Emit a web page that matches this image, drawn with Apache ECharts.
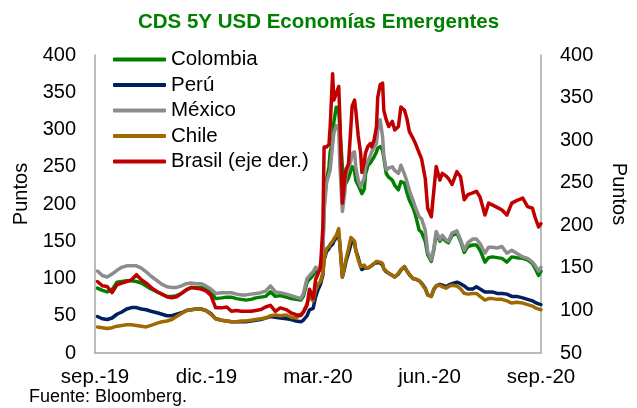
<!DOCTYPE html>
<html>
<head>
<meta charset="utf-8">
<script src="https://cdn.jsdelivr.net/npm/echarts@6.0.0/dist/echarts.min.js"></script>
<style>
  html, body { margin: 0; padding: 0; background: #fff; }
  #chart { width: 637px; height: 408px; }
</style>
</head>
<body>
<div id="chart"></div>
<script>
// fechas de las observaciones
const dates = [
  '2019-09-03','2019-09-07','2019-09-11','2019-09-15','2019-09-19','2019-09-23','2019-09-27','2019-10-01',
  '2019-10-05','2019-10-09','2019-10-13','2019-10-17','2019-10-22','2019-10-26','2019-10-30','2019-11-03',
  '2019-11-07','2019-11-11','2019-11-15','2019-11-19','2019-11-23','2019-11-27','2019-12-01','2019-12-05',
  '2019-12-09','2019-12-14','2019-12-18','2019-12-22','2019-12-26','2019-12-30','2020-01-03','2020-01-07',
  '2020-01-11','2020-01-15','2020-01-19','2020-01-23','2020-01-27','2020-01-31','2020-02-05','2020-02-09',
  '2020-02-13','2020-02-17','2020-02-19','2020-02-22','2020-02-24','2020-02-27','2020-02-29','2020-03-02',
  '2020-03-04','2020-03-06','2020-03-07','2020-03-09','2020-03-11','2020-03-12','2020-03-14','2020-03-15',
  '2020-03-17','2020-03-19','2020-03-20','2020-03-22','2020-03-24','2020-03-25','2020-03-27','2020-03-29',
  '2020-03-30','2020-04-01','2020-04-02','2020-04-04','2020-04-06','2020-04-07','2020-04-09','2020-04-10',
  '2020-04-12','2020-04-14','2020-04-15','2020-04-17','2020-04-19','2020-04-20','2020-04-22','2020-04-24',
  '2020-04-25','2020-04-27','2020-04-29','2020-05-02','2020-05-04','2020-05-07','2020-05-09','2020-05-12',
  '2020-05-14','2020-05-16','2020-05-19','2020-05-21','2020-05-24','2020-05-26','2020-05-29','2020-05-31',
  '2020-06-03','2020-06-05','2020-06-07','2020-06-10','2020-06-12','2020-06-15','2020-06-17','2020-06-20',
  '2020-06-24','2020-06-27','2020-06-30','2020-07-03','2020-07-07','2020-07-10','2020-07-13','2020-07-17',
  '2020-07-20','2020-07-23','2020-07-27','2020-07-31','2020-08-04','2020-08-08','2020-08-12','2020-08-17',
  '2020-08-21','2020-08-25','2020-08-27','2020-08-30','2020-09-01'
]

const colombia = [
  87,84,82,85,95,96,97,97,96,94,90,86,82,79,76,76,77,80,85,88,88,88,86,83,73,74,75,75,73,72,71,72,74,75,76,82,76,77,75,73,72,71,
  76,95,99,104,110,108,
  115,135,200,232,250,270,285,310,330,325,300,250,235,228,235,245,250,245,232,225,218,214,220,240,252,255,258,263,270,275,277,272,262,241,
  236,232,225,219,230,228,215,205,195,185,165,162,150,132,123,138,160,150,155,150,148,
  158,161,150,135,143,145,145,138,122,128,129,
  128,127,122,129,128,127,125,120,
  114,104,110
]

const peru = [
  49,46,45,47,52,55,59,61,61,59,58,56,54,52,50,50,52,54,57,58,59,59,57,53,46,44,43,42,42,42,42,43,44,45,47,49,48,47,46,45,43,42,
  44,50,58,60,75,85,
  92,105,125,136,140,143,146,150,155,160,145,102,115,123,134,146,153,148,138,128,116,112,114,113,114,116,117,120,121,122,121,118,113,109,
  107,104,102,106,111,116,110,105,100,99,97,94,87,78,76,85,90,92,91,89,91,
  93,95,93,90,86,86,89,86,82,82,82,
  80,80,79,76,76,74,72,70,
  68,66,65
]

const mexico = [
  110,104,102,106,111,115,117,117,117,114,109,103,97,92,89,88,88,90,93,94,93,93,90,86,80,81,81,81,79,78,78,79,80,81,83,90,82,81,79,77,75,73,
  80,100,104,109,115,112,
  118,135,190,228,240,246,280,295,305,300,250,190,215,240,248,258,268,270,250,232,223,225,235,250,258,265,270,276,281,300,313,290,265,246,
  248,250,245,241,252,240,230,218,205,195,183,180,165,136,125,140,163,152,158,152,150,
  161,164,152,138,148,153,153,147,134,142,142,
  141,143,134,138,134,129,127,122,
  118,110,115
]

const chile = [
  35,34,33,34,36,37,38,38,37,36,35,37,40,42,43,45,49,53,57,58,59,59,57,52,46,44,43,42,42,43,43,44,45,46,47,50,51,50,51,48,47,52,
  55,66,76,70,84,92,
  96,108,125,140,143,146,150,153,158,167,145,102,118,126,140,155,157,150,138,125,116,115,118,115,114,116,118,120,123,123,122,120,113,110,
  107,104,102,107,112,116,110,106,100,99,97,93,86,78,76,86,90,91,89,87,89,
  91,90,86,80,79,80,80,76,71,73,73,
  72,72,70,67,68,67,65,63,
  61,59,58
]

// Brasil va en el eje derecho
const brasil = [
  134,129,128,121,130,132,134,136,142,136,132,127,122,119,116,115,116,120,124,127,126,125,123,118,103,103,104,99,100,99,99,99,100,101,104,106,99,103,101,97,95,94,
  98,106,125,114,136,143,
  150,198,292,292,295,316,378,347,355,363,324,226,255,265,272,316,340,347,335,305,285,262,275,285,293,296,292,300,316,350,365,367,335,324,
  316,322,312,316,339,335,325,310,302,296,285,278,255,220,210,240,269,253,261,258,255,
  248,263,257,230,236,238,240,233,212,226,224,
  221,218,212,226,229,232,222,220,
  210,198,202
]

const xTickLabels = ['sep.-19', 'dic.-19', 'mar.-20', 'jun.-20', 'sep.-20']

const FONT = '"Liberation Sans", Arial, sans-serif'
const start = Date.UTC(2019, 8, 1)
const toDay = s => {
  const [y, m, d] = s.split('-').map(Number)
  return (Date.UTC(y, m - 1, d) - start) / 86400000
}
const pairs = arr => arr.map((v, i) => [toDay(dates[i]), v])

const chart = echarts.init(document.getElementById('chart'))

const makeSeries = (name, data, color, axis) => ({
  name,
  type: 'line',
  yAxisIndex: axis,
  data: pairs(data),
  showSymbol: false,
  symbol: 'none',
  lineStyle: { width: 3.5, color, cap: 'round', join: 'round' },
  itemStyle: { color }
})

const axisLine = { show: true, lineStyle: { color: '#a6a6a6', width: 1.5 } }

chart.setOption({
  animation: false,
  textStyle: { fontFamily: FONT },
  title: [
    {
      text: 'CDS 5Y USD Economías Emergentes',
      left: 'center',
      top: 7,
      textStyle: { fontFamily: FONT, fontSize: 20.5, fontWeight: 'bold', color: '#008000' }
    },
    {
      text: 'Fuente: Bloomberg.',
      left: 24,
      top: 383,
      textStyle: { fontFamily: FONT, fontSize: 18, fontWeight: 'normal', color: '#000' }
    }
  ],
  legend: {
    orient: 'vertical',
    left: 108,
    top: 44,
    icon: 'roundRect',
    itemWidth: 53,
    itemHeight: 4,
    itemGap: 4.5,
    textStyle: { fontFamily: FONT, fontSize: 20.5, lineHeight: 20, color: '#000' },
    data: ['Colombia', 'Perú', 'México', 'Chile', 'Brasil (eje der.)']
  },
  grid: { left: 95, right: 93, top: 55, bottom: 55, containLabel: false },
  xAxis: {
    type: 'value',
    min: 0,
    max: 366,
    interval: 91.5,
    axisLine,
    axisTick: { show: false },
    splitLine: { show: false },
    axisLabel: {
      margin: 14,
      fontSize: 20.5,
      color: '#000',
      fontFamily: FONT,
      formatter: v => xTickLabels[Math.round(v / 91.5)]
    }
  },
  yAxis: [
    {
      type: 'value',
      min: 0,
      max: 400,
      interval: 50,
      name: 'Puntos',
      nameLocation: 'middle',
      nameRotate: 90,
      nameGap: 63,
      nameTextStyle: { fontSize: 20, color: '#000', fontFamily: FONT, padding: [0, 0, 0, 20] },
      axisLine,
      axisTick: { show: false },
      splitLine: { show: false },
      axisLabel: { margin: 19, fontSize: 20, color: '#000', fontFamily: FONT }
    },
    {
      type: 'value',
      min: 50,
      max: 400,
      interval: 50,
      position: 'right',
      name: 'Puntos',
      nameLocation: 'middle',
      nameRotate: -90,
      nameGap: 68,
      nameTextStyle: { fontSize: 20, color: '#000', fontFamily: FONT, padding: [0, 20, 0, 0] },
      axisLine,
      axisTick: { show: false },
      splitLine: { show: false },
      axisLabel: { margin: 19, fontSize: 20, color: '#000', fontFamily: FONT }
    }
  ],
  series: [
    makeSeries('Colombia', colombia, '#008000', 0),
    makeSeries('Perú', peru, '#002060', 0),
    makeSeries('México', mexico, '#8c8c8c', 0),
    makeSeries('Chile', chile, '#a06a00', 0),
    makeSeries('Brasil (eje der.)', brasil, '#c00000', 1)
  ]
})

window.addEventListener('resize', () => chart.resize())
</script>
</body>
</html>
